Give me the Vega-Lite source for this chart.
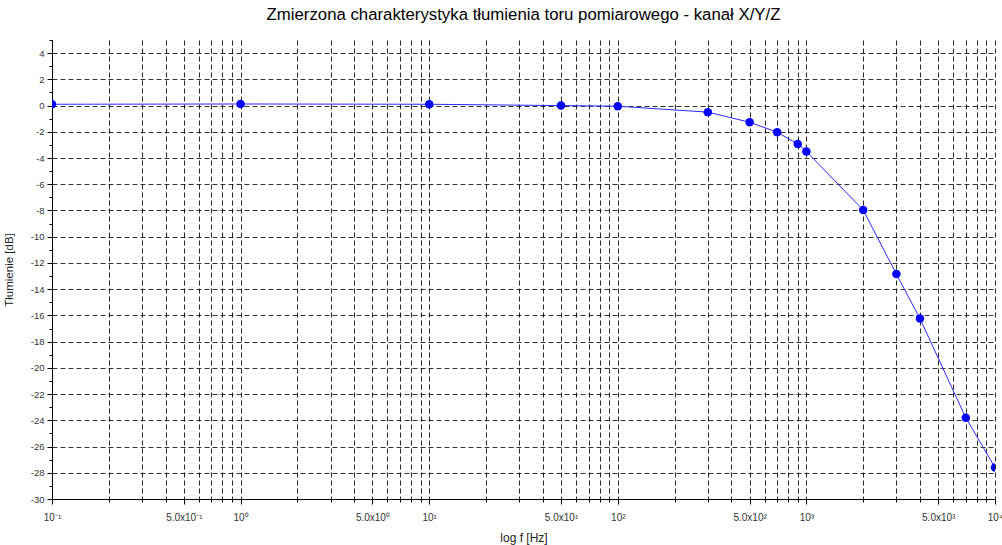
{
  "$schema": "https://vega.github.io/schema/vega-lite/v6.json",
  "autosize": {"type": "none"},
  "padding": {"left": 52, "top": 40, "right": 7, "bottom": 46},
  "width": 943,
  "height": 459,
  "background": "white",
  "title": {
    "text": "Zmierzona charakterystyka tłumienia toru pomiarowego - kanał X/Y/Z",
    "font": "Liberation Sans",
    "fontSize": 16.8,
    "fontWeight": "normal",
    "color": "#000",
    "anchor": "middle",
    "offset": 11
  },
  "config": {
    "view": {"stroke": null},
    "axis": {"labelFont": "Liberation Sans", "titleFont": "Liberation Sans"}
  },
  "data": {
    "values": [
      {"f": 0.1, "db": 0.1},
      {"f": 1, "db": 0.12},
      {"f": 10, "db": 0.1},
      {"f": 50, "db": 0.0},
      {"f": 100, "db": -0.05},
      {"f": 300, "db": -0.5},
      {"f": 500, "db": -1.27},
      {"f": 700, "db": -2.03},
      {"f": 900, "db": -2.93},
      {"f": 1000, "db": -3.5},
      {"f": 2000, "db": -7.96},
      {"f": 3000, "db": -12.85},
      {"f": 4000, "db": -16.24},
      {"f": 7000, "db": -23.8},
      {"f": 10000, "db": -27.6}
    ]
  },
  "encoding": {
    "x": {
      "field": "f",
      "type": "quantitative",
      "scale": {"type": "log", "domain": [0.1, 10000], "nice": false},
      "axis": {
        "title": "log f [Hz]",
        "titleFontSize": 12,
        "titleFontWeight": "normal",
        "titleColor": "#222",
        "titlePadding": 10,
        "values": [0.1,0.2,0.3,0.4,0.5,0.6,0.7,0.8,0.9,1,2,3,4,5,6,7,8,9,10,20,30,40,50,60,70,80,90,100,200,300,400,500,600,700,800,900,1000,2000,3000,4000,5000,6000,7000,8000,9000,10000],
        "labelExpr": "datum.value==0.1?'10⁻¹':datum.value==0.5?'5.0x10⁻¹':datum.value==1?'10⁰':datum.value==5?'5.0x10⁰':datum.value==10?'10¹':datum.value==50?'5.0x10¹':datum.value==100?'10²':datum.value==500?'5.0x10²':datum.value==1000?'10³':datum.value==5000?'5.0x10³':datum.value==10000?'10⁴':''",
        "labelFontSize": 10,
        "labelColor": "#333",
        "labelPadding": 8,
        "labelOverlap": false,
        "labelFlush": false,
        "domainColor": "#000",
        "domainWidth": 1,
        "tickColor": "#000",
        "tickSize": {"condition": {"test": "datum.value==0.1||datum.value==0.5||datum.value==1||datum.value==5||datum.value==10||datum.value==50||datum.value==100||datum.value==500||datum.value==1000||datum.value==5000||datum.value==10000", "value": 5}, "value": 3},
        "grid": true,
        "gridColor": "#000",
        "gridOpacity": 0.85,
        "gridDash": [5, 3],
        "gridWidth": 1
      }
    },
    "y": {
      "field": "db",
      "type": "quantitative",
      "scale": {"domain": [-30, 5], "nice": false, "zero": false},
      "axis": {
        "title": "Tłumienie [dB]",
        "titleFontSize": 11.5,
        "titleFontWeight": "normal",
        "titleColor": "#222",
        "titlePadding": 16,
        "values": [-30,-29,-28,-27,-26,-25,-24,-23,-22,-21,-20,-19,-18,-17,-16,-15,-14,-13,-12,-11,-10,-9,-8,-7,-6,-5,-4,-3,-2,-1,0,1,2,3,4,5],
        "labelExpr": "datum.value % 2 === 0 && datum.value < 5 ? '' + datum.value : ''",
        "labelFontSize": 9.5,
        "labelColor": "#333",
        "labelPadding": 3,
        "labelOverlap": false,
        "labelFlush": false,
        "domainColor": "#000",
        "domainWidth": 1,
        "tickColor": "#000",
        "tickSize": {"condition": {"test": "datum.value % 2 === 0", "value": 5}, "value": 3},
        "grid": true,
        "gridColor": {"condition": {"test": "datum.value % 2 === 0 && datum.value < 5", "value": "#000"}, "value": "transparent"},
        "gridOpacity": 0.8,
        "gridDash": [5, 3],
        "gridWidth": 1
      }
    }
  },
  "layer": [
    {"mark": {"type": "line", "color": "#2a2aff", "strokeWidth": 1, "clip": true}},
    {"mark": {"type": "point", "filled": true, "color": "#0000ff", "opacity": 1, "size": 72, "clip": true}}
  ]
}
